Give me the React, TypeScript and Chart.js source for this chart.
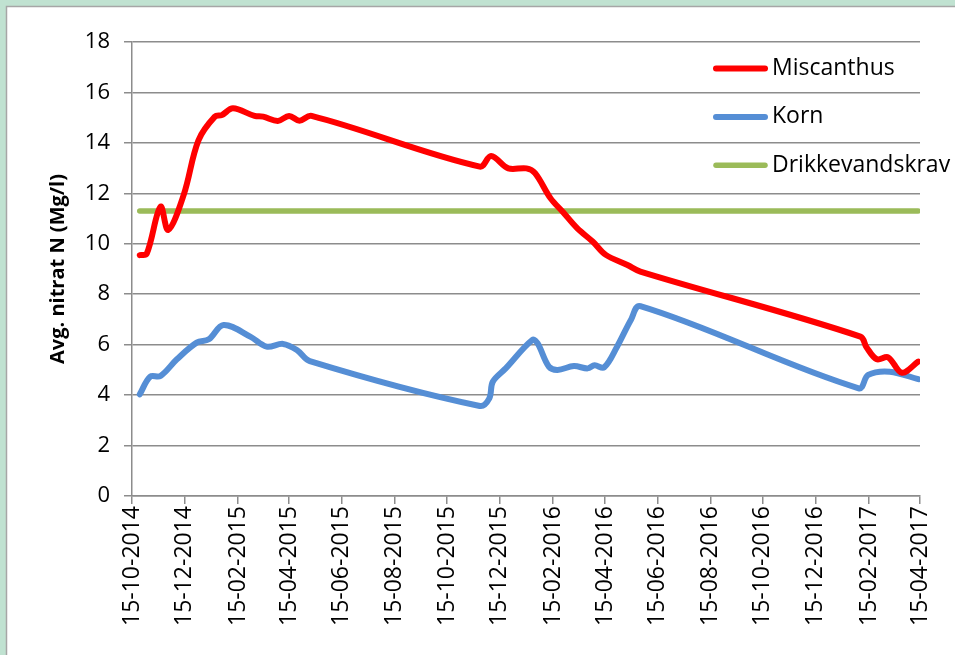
import React, { useEffect, useRef } from "react";
import { Chart, registerables } from "chart.js";

Chart.register(...registerables);

// ---- Data ----
const originDate = "2014-10-15";

const tickDates = [
  "2014-10-15", "2014-12-15", "2015-02-15", "2015-04-15", "2015-06-15", "2015-08-15",
  "2015-10-15", "2015-12-15", "2016-02-15", "2016-04-15", "2016-06-15", "2016-08-15",
  "2016-10-15", "2016-12-15", "2017-02-15", "2017-04-15",
];
const tickLabels = [
  "15-10-2014", "15-12-2014", "15-02-2015", "15-04-2015", "15-06-2015", "15-08-2015",
  "15-10-2015", "15-12-2015", "15-02-2016", "15-04-2016", "15-06-2016", "15-08-2016",
  "15-10-2016", "15-12-2016", "15-02-2017", "15-04-2017",
];

const miscanthusDates = [
  "2014-10-24", "2014-11-01", "2014-11-17", "2014-11-26", "2014-12-14", "2014-12-31",
  "2015-01-19", "2015-01-27", "2015-02-09", "2015-03-06", "2015-03-16", "2015-04-02",
  "2015-04-15", "2015-04-27", "2015-05-11", "2015-11-22", "2015-12-05", "2015-12-25",
  "2016-01-15", "2016-01-25", "2016-02-12", "2016-02-26", "2016-03-14", "2016-04-01",
  "2016-04-16", "2016-05-11", "2016-05-26", "2017-02-05", "2017-02-12", "2017-02-24",
  "2017-03-09", "2017-03-25", "2017-04-13",
];
const miscanthusValues = [
  9.55, 9.6, 11.47, 10.55, 11.95, 14.1,
  15.04, 15.1, 15.37, 15.07, 15.04, 14.87,
  15.07, 14.88, 15.07, 13.06, 13.48, 12.99,
  12.99, 12.8, 11.8, 11.27, 10.61, 10.08,
  9.56, 9.16, 8.9, 6.32, 5.9, 5.42,
  5.5, 4.89, 5.33,
];

const kornDates = [
  "2014-10-24", "2014-11-05", "2014-11-17", "2014-12-06", "2014-12-29", "2015-01-12",
  "2015-01-29", "2015-03-01", "2015-03-20", "2015-04-08", "2015-04-24", "2015-05-09",
  "2015-11-22", "2015-12-03", "2015-12-07", "2015-12-22", "2016-01-22", "2016-01-28",
  "2016-02-10", "2016-02-20", "2016-03-10", "2016-03-26", "2016-04-03", "2016-04-14",
  "2016-04-29", "2016-05-15", "2016-05-26", "2017-02-03", "2017-02-14", "2017-03-11",
  "2017-04-13",
];
const kornValues = [
  4.03, 4.73, 4.76, 5.42, 6.08, 6.21,
  6.78, 6.32, 5.92, 6.03, 5.79, 5.35,
  3.57, 3.87, 4.53, 5.06, 6.19, 6.05,
  5.13, 5.0, 5.15, 5.06, 5.18, 5.1,
  5.92, 6.98, 7.53, 4.27, 4.8, 4.93,
  4.63,
];

const kravDates = ["2014-10-24", "2017-04-13"];
const kravValues = [11.3, 11.3];

const seriesNames = ["Miscanthus", "Korn", "Drikkevandskrav"];
const seriesColors = ["#FF0000", "#558ED5", "#9BBB59"];

const yAxisTitle = "Avg. nitrat N (Mg/l)";

// ---- helpers ----
function dayNum(s: string): number {
  const [y, m, d] = s.split("-").map(Number);
  const [oy, om, od] = originDate.split("-").map(Number);
  return Math.round((Date.UTC(y, m - 1, d) - Date.UTC(oy, om - 1, od)) / 86400000);
}
function toPoints(dates: string[], values: number[]) {
  return dates.map((d, i) => ({ x: dayNum(d), y: values[i] }));
}

const FONT = "'Open Sans', 'Liberation Sans', sans-serif";
const GRID = "#8c8c8c";

const backgroundPlugin = {
  id: "frameBackground",
  beforeDraw(chart: any) {
    const { ctx, width, height } = chart;
    ctx.save();
    ctx.fillStyle = "#C0E2D1";
    ctx.fillRect(0, 0, width, height);
    ctx.fillStyle = "#FFFFFF";
    ctx.fillRect(7, 7, width, height);
    ctx.strokeStyle = "#A6A6A6";
    ctx.lineWidth = 1.5;
    ctx.beginPath();
    ctx.moveTo(6.5, height + 2);
    ctx.lineTo(6.5, 6.5);
    ctx.lineTo(width + 2, 6.5);
    ctx.stroke();
    ctx.restore();
  },
};

const legendPlugin = {
  id: "inlineLegend",
  afterDatasetsDraw(chart: any) {
    const { ctx } = chart;
    ctx.save();
    ctx.font = `23px ${FONT}`;
    ctx.textBaseline = "middle";
    ctx.textAlign = "left";
    chart.data.datasets.forEach((ds: any, i: number) => {
      const y = 68.5 + i * 48.4;
      ctx.strokeStyle = ds.borderColor;
      ctx.lineWidth = ds.borderWidth;
      ctx.lineCap = "round";
      ctx.beginPath();
      ctx.moveTo(716, y);
      ctx.lineTo(765, y);
      ctx.stroke();
      ctx.fillStyle = "#000";
      ctx.fillText(ds.label, 772, y);
    });
    ctx.restore();
  },
};

export default function App() {
  const canvasRef = useRef<HTMLCanvasElement | null>(null);

  useEffect(() => {
    document.body.style.margin = "0";
    const canvas = canvasRef.current;
    if (!canvas) return;
    const mk = (i: number, pts: any[]) => ({
      label: seriesNames[i],
      data: pts,
      borderColor: seriesColors[i],
      backgroundColor: seriesColors[i],
      borderWidth: i === 2 ? 5.5 : 6,
      pointRadius: 0,
      tension: 0.35,
      borderCapStyle: "round",
      borderJoinStyle: "round",
      fill: false,
    });
    const chart = new Chart(canvas, {
      type: "line",
      data: {
        datasets: [
          mk(0, toPoints(miscanthusDates, miscanthusValues)),
          mk(1, toPoints(kornDates, kornValues)),
          mk(2, toPoints(kravDates, kravValues)),
        ] as any,
      },
      options: {
        responsive: false,
        maintainAspectRatio: false,
        animation: false,
        layout: { padding: { top: 42, right: 35, left: 0, bottom: 0 } },
        plugins: {
          legend: { display: false },
          tooltip: { enabled: false },
        },
        scales: {
          x: {
            type: "linear",
            min: 0,
            max: dayNum(tickDates[tickDates.length - 1]),
            afterBuildTicks: (s: any) => {
              s.ticks = tickDates.map((d) => ({ value: dayNum(d) }));
            },
            afterFit: (s: any) => {
              s.height = 159;
            },
            ticks: {
              autoSkip: false,
              maxRotation: 90,
              minRotation: 90,
              color: "#000",
              font: { family: FONT, size: 23 },
              padding: 2,
              callback: (_v: any, i: number) => tickLabels[i],
            },
            grid: {
              drawOnChartArea: false,
              drawTicks: true,
              tickLength: 8,
              color: GRID,
              lineWidth: 1.5,
            },
            border: { color: GRID, width: 1.5 },
          },
          y: {
            min: 0,
            max: 18,
            afterFit: (s: any) => {
              s.width = 132;
            },
            ticks: {
              stepSize: 2,
              color: "#000",
              font: { family: FONT, size: 22 },
              padding: 14,
            },
            grid: {
              color: GRID,
              lineWidth: 1.5,
              tickLength: 8,
              drawTicks: true,
            },
            border: { color: GRID, width: 1.5 },
            title: {
              display: true,
              text: yAxisTitle,
              color: "#000",
              font: { family: FONT, size: 20, weight: "bold" },
              padding: { top: 46, bottom: 0 },
            },
          },
        },
      } as any,
      plugins: [backgroundPlugin, legendPlugin],
    });
    return () => chart.destroy();
  }, []);

  return (
    <div style={{ position: "absolute", left: 0, top: 0, width: 955, height: 655 }}>
      <canvas ref={canvasRef} width={955} height={655} style={{ display: "block" }} />
    </div>
  );
}
